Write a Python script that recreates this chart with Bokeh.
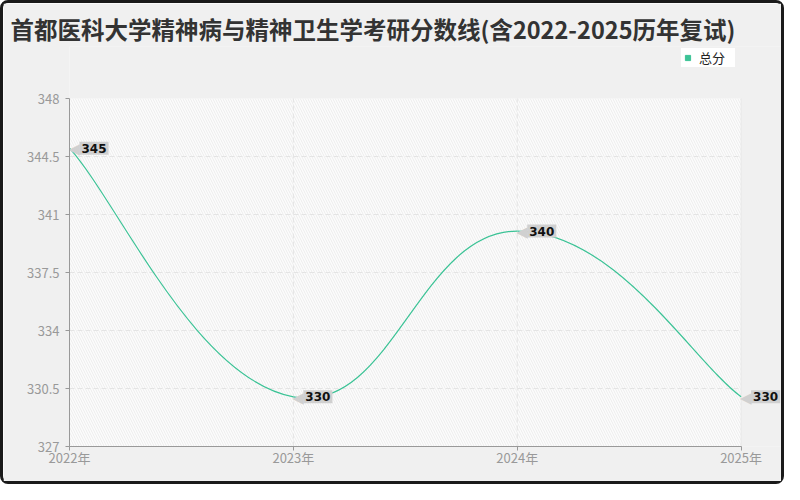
import numpy as np
from bokeh.plotting import figure
from bokeh.models import (FixedTicker, Legend, LegendItem, BoxAnnotation, Label,
                          ColumnDataSource)
from bokeh.core.properties import value
from bokeh.embed import file_html
from bokeh.resources import INLINE

title_text = "首都医科大学精神病与精神卫生学考研分数线(含2022-2025历年复试)"
years = [2022, 2023, 2024, 2025]
x_labels = ["2022年", "2023年", "2024年", "2025年"]
scores = [345, 330, 340, 330]
y_ticks = [327, 330.5, 334, 337.5, 341, 344.5, 348]
y_labels = ["327", "330.5", "334", "337.5", "341", "344.5", "348"]
series_name = "总分"

GREEN = "#3cc396"
FONT = "Noto Sans CJK SC"
BG = "#f0f0f0"

X0, X1 = years[0], years[-1]
Y0, Y1 = y_ticks[0], y_ticks[-1]

W, H = 784, 484
FL, FR, FT, FB = 66, 782, 43, 443           # frame edges in pixels
px_x = (737.6 - FL) / (X1 - X0)             # pixels per year
px_y = (FB - 95.0) / (Y1 - Y0)              # pixels per point
x_max = X0 + (FR - FL) / px_x
y_max = Y0 + (FB - FT) / px_y

p = figure(width=W, height=H, output_backend="svg", toolbar_location=None,
           x_range=(X0, x_max), y_range=(Y0, y_max),
           min_border_left=FL, min_border_right=W - FR, min_border_top=FT,
           min_border_bottom=H - FB)
p.styles = {"border": "3px solid #1a1a1a", "border-radius": "8px"}
p.border_fill_color = BG
p.background_fill_color = BG
p.outline_line_color = None
p.grid.visible = False

# title
p.title.text = title_text
p.title.text_font = FONT
p.title.text_font_size = "23.5px"
p.title.text_font_style = "bold"
p.title.text_color = "#333333"
p.title.align = "left"
p.title.offset = -59
p.title.standoff = 2

# hatched plotting area
p.add_layout(BoxAnnotation(left=X0, right=X1, bottom=Y0, top=Y1,
                           fill_color="#fcfcfc", fill_alpha=1.0, line_color=None,
                           hatch_pattern="left_diagonal_line", hatch_color="#ededed",
                           hatch_scale=5, hatch_weight=1, level="image"))

# grid lines (dashed) at the tick positions
gy = y_ticks[1:-1]
p.segment(x0=[X0] * len(gy), x1=[X1] * len(gy), y0=gy, y1=gy,
          line_color="#e4e4e4", line_dash="5 3", line_width=1, level="underlay")
gx = years[1:-1]
p.segment(x0=gx, x1=gx, y0=[Y0] * len(gx), y1=[Y1] * len(gx),
          line_color="#e4e4e4", line_dash="5 3", line_width=1, level="underlay")
p.segment(x0=[X1], x1=[X1], y0=[Y0], y1=[Y1], line_color="#e8e8e8", line_width=1,
          level="underlay")

# axes
for ax in (p.xaxis[0], p.yaxis[0]):
    ax.axis_line_color = "#999999"
    ax.major_tick_line_color = "#999999"
    ax.minor_tick_line_color = None
    ax.major_tick_in = 0
    ax.major_tick_out = 4
    ax.major_label_text_color = "#999999"
    ax.major_label_text_font = FONT
    ax.major_label_text_font_size = "13px"
p.xaxis.bounds = (X0, X1)
p.yaxis.bounds = (Y0, Y1)
p.xaxis.ticker = FixedTicker(ticks=years)
p.xaxis.major_label_overrides = {y: l for y, l in zip(years, x_labels)}
p.xaxis.major_label_standoff = -3
p.yaxis.ticker = FixedTicker(ticks=y_ticks)
p.yaxis.major_label_overrides = {t: l for t, l in zip(y_ticks, y_labels)}
p.yaxis.major_label_standoff = 6

# smooth curve via cubic bezier between data points
xs = np.array(years, dtype=float)
ys = np.array(scores, dtype=float)
t = 0.22
n = len(xs)
x0, y0, x1, y1, cx0, cy0, cx1, cy1 = [], [], [], [], [], [], [], []
for i in range(n - 1):
    ip = max(i - 1, 0)
    inn = min(i + 2, n - 1)
    x0.append(xs[i]); y0.append(ys[i]); x1.append(xs[i + 1]); y1.append(ys[i + 1])
    cx0.append(xs[i] + (xs[i + 1] - xs[ip]) * t)
    cy0.append(ys[i] + (ys[i + 1] - ys[ip]) * t)
    cx1.append(xs[i + 1] - (xs[inn] - xs[i]) * t)
    cy1.append(ys[i + 1] - (ys[inn] - ys[i]) * t)
p.bezier(x0=x0, y0=y0, x1=x1, y1=y1, cx0=cx0, cy0=cy0, cx1=cx1, cy1=cy1,
         line_color=GREEN, line_width=1.2)

# data label tags
src = ColumnDataSource(dict(x=years, y=scores, t=[str(s) for s in scores]))
p.text(x="x", y="y", text=value("◀"), source=src, x_offset=-1, y_offset=1,
       text_color="#d0d0d0", text_font=value("DejaVu Sans"), text_font_size="15px",
       text_baseline="middle", text_align="left")
for xv, yv in zip(years, scores):
    p.add_layout(Label(x=xv, y=yv, x_offset=10, y_offset=0, text=str(yv),
                       text_font="DejaVu Sans", text_font_size="12px", text_font_style="bold",
                       text_color="#111111", text_baseline="middle", text_align="left",
                       background_fill_color="#d0d0d0", background_fill_alpha=1.0,
                       padding=2))

# legend swatch: zero-size square markers on the data (invisible in the plot)
sq = p.scatter(x="x", y="y", source=src, marker="square", size=0,
               fill_color=GREEN, line_color=GREEN)
legend = Legend(items=[LegendItem(label=series_name, renderers=[sq])],
                location=(612, 379), orientation="horizontal",
                background_fill_color="white", background_fill_alpha=1.0,
                border_line_color=None, label_text_font=FONT,
                label_text_font_size="13px", label_text_color="#222222",
                glyph_width=13, glyph_height=13, padding=4, margin=0,
                label_standoff=5, label_width=36)
p.add_layout(legend)

open("out.html", "w").write(file_html(p, INLINE))
